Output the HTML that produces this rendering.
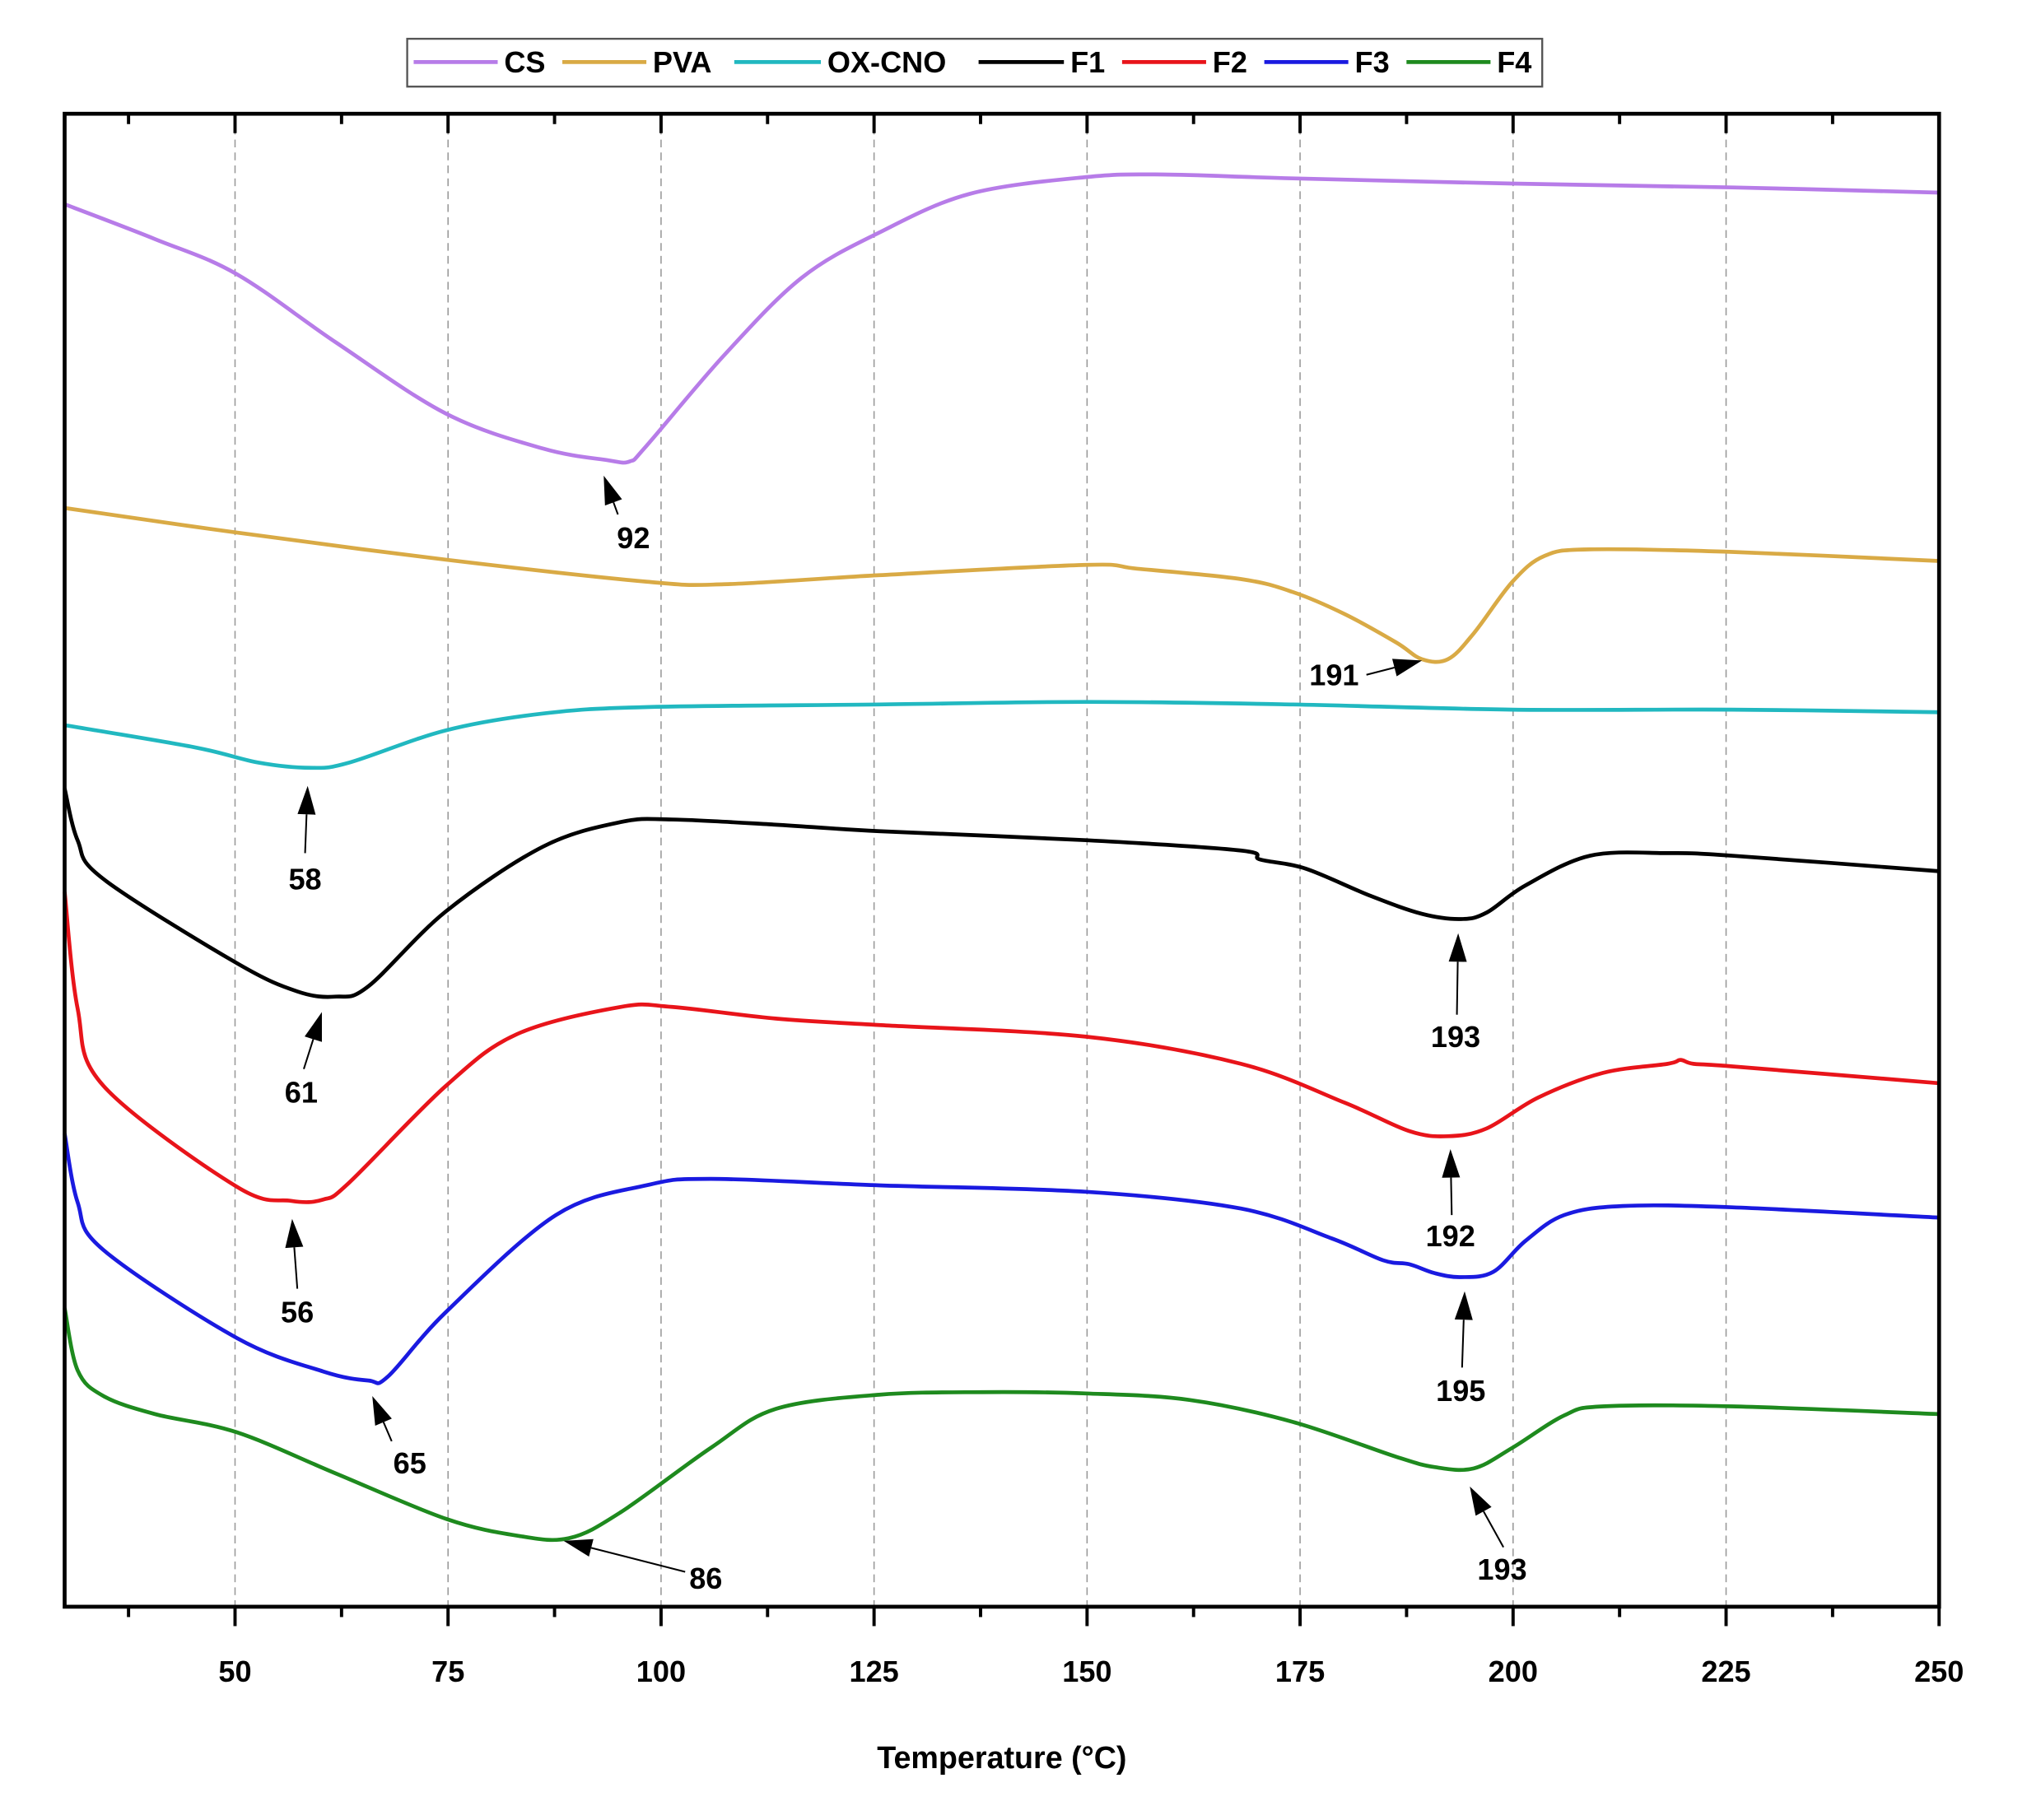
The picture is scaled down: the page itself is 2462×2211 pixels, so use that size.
<!DOCTYPE html>
<html><head><meta charset="utf-8"><style>
html,body{margin:0;padding:0;background:#fff}
svg{display:block}
text{font-family:"Liberation Sans",Arial,sans-serif;font-weight:bold;fill:#000}
</style></head><body>
<svg id="s" width="2462" height="2211" viewBox="0 0 1568 1408" preserveAspectRatio="none" xmlns="http://www.w3.org/2000/svg">
<rect width="1568" height="1408" fill="#fff"/>
<g id="grid" stroke="#999" stroke-width="1" stroke-dasharray="6,4"></g>
<g id="curves" fill="none" stroke-width="3" stroke-linejoin="round"></g>
<g id="ann" stroke="#000" stroke-width="1.3" fill="#000"></g>
<rect x="50" y="88" width="1450" height="1155" fill="none" stroke="#000" stroke-width="3"/>
<g id="ticks" stroke="#000" stroke-width="2.5"></g>
<g id="tl" font-size="23" text-anchor="middle"></g>
<text x="775" y="1368" font-size="24" text-anchor="middle">Temperature (°C)</text>
<rect x="315" y="30" width="878" height="37" fill="#fff" stroke="#555" stroke-width="1.5"/>
<g id="leg" font-size="23" stroke-width="3"></g>
</svg>
<script>
const NS="http://www.w3.org/2000/svg";
function el(p,t,a,txt){const e=document.createElementNS(NS,t);for(const k in a)e.setAttribute(k,a[k]);if(txt!=null)e.textContent=txt;document.getElementById(p).appendChild(e);return e;}
const X=T=>50+(T-30)*1450/220;
for(let T=50;T<=225;T+=25){el('grid','line',{x1:X(T),x2:X(T),y1:88,y2:1243});}
for(let T=37.5;T<=250;T+=12.5){const maj=(T%25===0);const L=maj?15:8;const x=X(T);
el('ticks','line',{x1:x,x2:x,y1:1243,y2:1243+L});el('ticks','line',{x1:x,x2:x,y1:88,y2:88+L});
if(maj)el('tl','text',{x:x,y:1301},String(T));}
function path(pts){let d="M"+pts[0][0]+","+pts[0][1];for(let i=0;i<pts.length-1;i++){const p0=pts[Math.max(i-1,0)],p1=pts[i],p2=pts[i+1],p3=pts[Math.min(i+2,pts.length-1)];
const c1=[p1[0]+(p2[0]-p0[0])/6,p1[1]+(p2[1]-p0[1])/6],c2=[p2[0]-(p3[0]-p1[0])/6,p2[1]-(p3[1]-p1[1])/6];d+=`C${c1[0]},${c1[1]} ${c2[0]},${c2[1]} ${p2[0]},${p2[1]}`;}return d;}
const S={
"#b77ce8":[[50,158],[120,185],[183,212],[260,265],[345,320],[420,347],[470,356],[487,357],[500,345],[560,275],[620,215],[680,180],[750,150],[840,137],[900,135],[1000,138],[1170,142],[1340,145],[1500,149]],
"#d9aa45":[[50,393],[183,412],[345,433],[500,450],[560,452],[680,445],[840,437],[880,440],[960,448],[1000,458],[1040,475],[1080,497],[1100,510],[1120,510],[1140,490],[1170,450],[1195,430],[1230,425],[1340,427],[1500,434]],
"#21b8c0":[[50,561],[150,578],[200,590],[240,594],[270,590],[345,565],[420,552],[500,547],[680,545],[840,543],[1000,545],[1170,549],[1340,549],[1500,551]],
"#000":[[50,610],[60,650],[80,680],[183,745],[230,767],[260,771],[285,763],[345,705],[420,655],[480,636],[520,634],[600,638],[680,643],[840,650],[960,658],[975,665],[1010,672],[1060,693],[1100,707],[1130,711],[1150,706],[1180,685],[1230,662],[1290,660],[1340,662],[1500,674]],
"#e8141a":[[50,690],[60,780],[80,840],[183,918],[225,929],[250,928],[270,915],[345,840],[400,800],[480,779],[520,779],[600,788],[680,793],[840,802],[960,823],[1040,853],[1090,875],[1120,879],[1150,873],[1190,849],[1240,830],[1290,823],[1300,820],[1310,823],[1340,825],[1500,838]],
"#1a1ae0":[[50,877],[60,930],[80,967],[183,1035],[250,1061],[285,1068],[300,1065],[345,1015],[430,940],[500,917],[550,912],[680,917],[840,922],[960,935],[1030,958],[1070,975],[1090,978],[1110,985],[1130,988],[1155,984],[1180,960],[1210,940],[1255,933],[1340,934],[1500,942]],
"#1e8a1e":[[50,1012],[60,1060],[80,1080],[120,1094],[183,1108],[260,1140],[345,1175],[400,1188],[440,1190],[480,1170],[550,1120],[600,1090],[680,1079],[760,1077],[840,1078],[920,1083],[1000,1100],[1080,1127],[1110,1135],[1140,1136],[1170,1120],[1210,1095],[1240,1088],[1340,1088],[1500,1094]]};
for(const c in S)el('curves','path',{d:path(S[c]),stroke:c});
const A=[["92",[478,398],[467,368],490,424],["191",[1057,522],[1100,511],1032,530],["58",[236,660],[238,608],236,688],["61",[235,827],[249,783],233,853],["193",[1127,785],[1128,722],1126,810],["56",[230,997],[226,943],230,1023],["192",[1123,940],[1122,889],1122,964],["65",[303,1115],[288,1080],317,1140],["195",[1131,1058],[1133,999],1130,1084],["86",[530,1216],[436,1192],546,1229],["193",[1163,1197],[1137,1150],1162,1222]];
for(const [t,f,tp,lx,ly] of A){const dx=tp[0]-f[0],dy=tp[1]-f[1],L=Math.hypot(dx,dy),ux=dx/L,uy=dy/L,h=22,w=7;
const bx=tp[0]-ux*h,by=tp[1]-uy*h;
el('ann','line',{x1:f[0],y1:f[1],x2:bx,y2:by});
el('ann','polygon',{points:`${tp[0]},${tp[1]} ${bx-uy*w},${by+ux*w} ${bx+uy*w},${by-ux*w}`,stroke:'none'});
el('tl','text',{x:lx,y:ly},t);}
const LG=[["CS","#b77ce8",320,390],["PVA","#d9aa45",435,505],["OX-CNO","#21b8c0",568,640],["F1","#000",757,828],["F2","#e8141a",868,938],["F3","#1a1ae0",978,1048],["F4","#1e8a1e",1088,1158]];
for(const [n,c,x1,tx] of LG){el('leg','line',{x1:x1,x2:tx-5,y1:48,y2:48,stroke:c});el('leg','text',{x:tx,y:56},n);}
</script>
</body></html>
